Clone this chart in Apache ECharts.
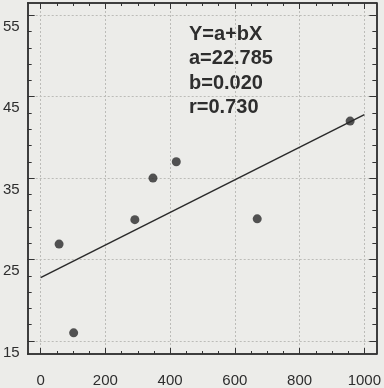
<!DOCTYPE html>
<html>
<head>
<meta charset="utf-8">
<script src="https://cdn.jsdelivr.net/npm/echarts@6/dist/echarts.min.js"></script>
<style>
  html, body { margin: 0; padding: 0; background: #ecece9; }
  #regressionScatter { width: 384px; height: 388px; }
</style>
</head>
<body>
<div id="regressionScatter"></div>
<script>
  // 散点数据
  var xValues = [57, 102, 291, 347, 419, 669, 956]
  var yValues = [26.9, 16.0, 29.9, 35.0, 37.0, 30.0, 42.0]
  // 回归直线端点
  var fitLineX = [0, 1000]
  var fitLineY = [22.785, 42.785]
  var statLines = ['Y=a+bX', 'a=22.785', 'b=0.020', 'r=0.730']
  // 刻度
  var xMajorTicks = [0, 200, 400, 600, 800, 1000]
  var xMinorTicks = [50, 100, 150, 250, 300, 350, 450, 500, 550, 650, 700, 750, 850, 900, 950]
  var yMajorTicks = [15, 25, 35, 45, 55]
  var yMinorTicks = [17, 19, 21, 23, 27, 29, 31, 33, 37, 39, 41, 43, 47, 49, 51, 53]

  var frameColor = '#333'
  var fontFamily = 'Liberation Sans, Arial, sans-serif'

  function makeAxis (dim, position, ticks, len, withLabel, withSplit) {
    var axis = {
      type: 'value',
      position: position,
      min: dim === 'x' ? -40 : 13.4,
      max: dim === 'x' ? 1037 : 56.5,
      axisLine: { show: true, onZero: false, lineStyle: { color: frameColor, width: 1.5 } },
      axisTick: {
        show: true,
        inside: true,
        length: len,
        customValues: ticks,
        lineStyle: { color: frameColor, width: 1 }
      },
      axisLabel: { show: false },
      splitLine: { show: false }
    }
    if (withLabel) {
      axis.axisLabel = {
        show: true,
        customValues: ticks,
        color: '#2e2e2e',
        fontSize: 15,
        fontFamily: fontFamily,
        formatter: function (v) { return String(v) }
      }
      if (dim === 'x') {
        axis.axisLabel.margin = 19
      } else {
        axis.axisLabel.margin = 8
        axis.axisLabel.verticalAlign = 'top'
        axis.axisLabel.padding = [4, 0, 0, 0]
      }
    }
    if (withSplit) {
      axis.splitLine = {
        show: true,
        lineStyle: { color: '#bcbcb8', type: [2, 2], width: 1 }
      }
    }
    return axis
  }

  var chart = echarts.init(document.getElementById('regressionScatter'))
  chart.setOption({
    backgroundColor: '#ecece9',
    animation: false,
    grid: { left: 26, top: 3, right: 6, bottom: 34 },
    xAxis: [
      makeAxis('x', 'bottom', xMajorTicks, 6, true, true),
      makeAxis('x', 'bottom', xMinorTicks, 3, false, false),
      makeAxis('x', 'top', xMajorTicks, 6, false, false),
      makeAxis('x', 'top', xMinorTicks, 3, false, false)
    ],
    yAxis: [
      makeAxis('y', 'left', yMajorTicks, 7, true, true),
      makeAxis('y', 'left', yMinorTicks, 4, false, false),
      makeAxis('y', 'right', yMajorTicks, 7, false, false),
      makeAxis('y', 'right', yMinorTicks, 4, false, false)
    ],
    graphic: statLines.map(function (t, i) {
      return {
        type: 'text',
        left: 189,
        top: 24 + i * 24.5,
        style: {
          text: t,
          fill: '#2e2e2e',
          font: 'bold 20px ' + fontFamily
        }
      }
    }),
    series: [{
      type: 'line',
      xAxisIndex: 0,
      yAxisIndex: 0,
      showSymbol: false,
      lineStyle: { color: '#2a2a2a', width: 1.5 },
      data: fitLineX.map(function (x, i) { return [x, fitLineY[i]] })
    }, {
      type: 'scatter',
      xAxisIndex: 0,
      yAxisIndex: 0,
      symbolSize: 9,
      itemStyle: { color: '#2a2a2a' },
      data: xValues.map(function (x, i) { return [x, yValues[i]] })
    }]
  })
</script>
</body>
</html>
